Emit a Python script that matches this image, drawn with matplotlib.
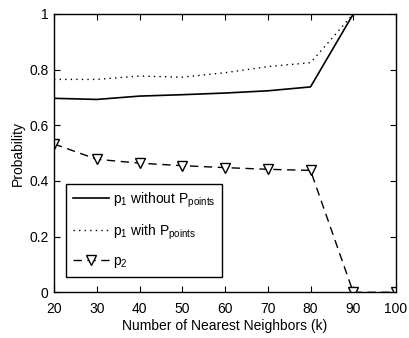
import matplotlib
matplotlib.use("Agg")
import matplotlib.pyplot as plt

plt.rcParams['font.family'] = ['Liberation Sans', 'DejaVu Sans']
plt.rcParams['mathtext.default'] = 'regular'
plt.rcParams['font.size'] = 10

k = [20, 30, 40, 50, 60, 70, 80, 90, 100]
p1_without = [0.697, 0.693, 0.705, 0.710, 0.716, 0.724, 0.738, 1.0, 1.0]
p1_with = [0.765, 0.765, 0.777, 0.773, 0.789, 0.811, 0.825, 1.0, 1.0]
p2 = [0.533, 0.478, 0.464, 0.455, 0.448, 0.442, 0.438, 0.0, 0.0]

labels = [r'p$_1$ without P$_{points}$', r'p$_1$ with P$_{points}$', r'p$_2$']

fig = plt.figure(figsize=(4.1, 3.38), dpi=100)
ax = fig.add_axes([0.1317, 0.1352, 0.8342, 0.8234])

ax.plot(k, p1_without, color='black', lw=1.2, label=labels[0])
ax.plot(k, p1_with, color='black', lw=1.0, linestyle=(0, (1, 3)), label=labels[1])
ax.plot(k, p2, color='black', lw=1.0, linestyle=(0, (6, 4)), marker='v',
        markersize=7, markerfacecolor='white', markeredgecolor='black',
        markeredgewidth=1.0, label=labels[2])

ax.set_xlim(20, 100)
ax.set_ylim(0, 1)
ax.set_xticks(range(20, 101, 10))
ax.set_yticks([0, 0.2, 0.4, 0.6, 0.8, 1.0])
ax.set_yticklabels(['0', '0.2', '0.4', '0.6', '0.8', '1'])
ax.tick_params(direction='in', top=True, right=True, length=4, width=0.8)
ax.tick_params(axis='x', pad=7)
ax.tick_params(axis='y', pad=4)
for s in ax.spines.values():
    s.set_linewidth(1.0)

ax.set_xlabel('Number of Nearest Neighbors (k)', labelpad=2)
ax.set_ylabel('Probability', labelpad=3)

leg = ax.legend(loc='lower left', bbox_to_anchor=(0.0345, 0.055), numpoints=1,
                borderaxespad=0, fancybox=False, framealpha=1, edgecolor='black',
                handlelength=2.6, borderpad=0.5, labelspacing=0.9,
                handletextpad=0.3)
leg.get_frame().set_linewidth(1.0)

fig.savefig('out.png', dpi=100)
